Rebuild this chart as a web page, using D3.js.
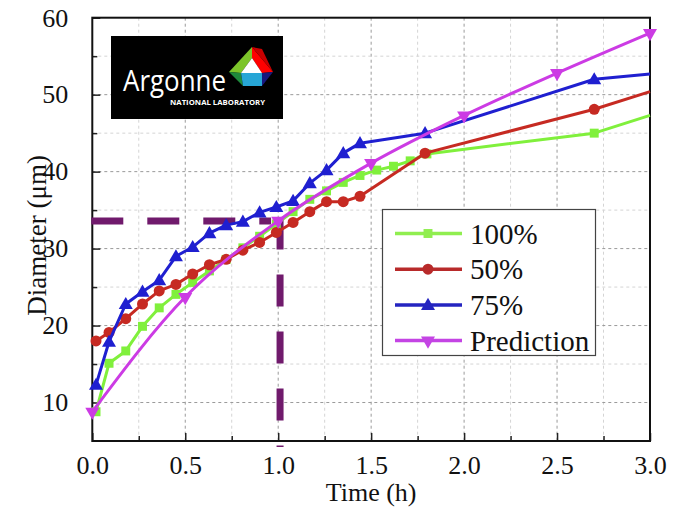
<!DOCTYPE html>
<html><head><meta charset="utf-8">
<script src="https://cdn.jsdelivr.net/npm/d3@7/dist/d3.min.js"></script>
<style>body{margin:0;background:#fff}svg{display:block}.sf{font-family:"Liberation Serif","Times New Roman",Times,serif}</style>
</head><body>
<script>
// ---- data ----
const greenTimes = [0.02,0.09,0.18,0.27,0.36,0.45,0.54,0.63,0.72,0.81,0.90,0.99,1.08,1.17,1.26,1.35,1.44,1.53,1.62,1.71,1.80,2.70,3.0];
const green100 = [8.8,15.1,16.7,19.9,22.3,24.05,25.6,27.1,28.6,30.1,31.6,33.2,34.8,36.4,37.5,38.6,39.5,40.2,40.7,41.4,42.3,45.0,47.3];
const redTimes = [0.02,0.09,0.18,0.27,0.36,0.45,0.54,0.63,0.72,0.81,0.90,0.99,1.08,1.17,1.26,1.35,1.44,1.79,2.70,3.0];
const red50 = [18.0,19.1,20.9,22.8,24.5,25.35,26.7,27.9,28.6,29.8,30.8,32.1,33.4,34.8,36.1,36.1,36.8,42.4,48.1,50.4];
const blueTimes = [0.02,0.09,0.18,0.27,0.36,0.45,0.54,0.63,0.72,0.81,0.90,0.99,1.08,1.17,1.26,1.35,1.44,1.79,2.70,3.0];
const blue75 = [12.3,17.9,22.8,24.4,25.9,29.0,30.2,32.0,33.05,33.5,34.7,35.4,36.2,38.5,40.2,42.4,43.7,45.0,52.0,52.7];
const predTimes = [0.0,0.5,1.0,1.5,2.0,2.5,3.0];
const pred = [8.8,23.7,33.6,41.1,47.3,52.8,58.0];
const xTicks = [0,0.5,1,1.5,2,2.5,3];
const yTicks = [10,20,30,40,50,60];
const guideT = 1.01, guideD = 33.6;
const legendLabels = ["100%","50%","75%","Prediction"];

const W=678,H=507;
const L=92.3,R=650,T=17.7,B=441;
const x=d3.scaleLinear().domain([0,3]).range([L,R]);
const y=d3.scaleLinear().domain([5,60]).range([B,T]);
const svg=d3.select("body").append("svg").attr("width",W).attr("height",H);

// grid
const g=svg.append("g");
d3.range(0.25,3,0.25).forEach(v=>{
  const major=Math.abs(v*2-Math.round(v*2))<1e-6;
  g.append("line").attr("x1",x(v)).attr("x2",x(v)).attr("y1",T).attr("y2",B)
   .attr("stroke",major?"#9a9a9a":"#d4d4d4").attr("stroke-width",1).attr("stroke-dasharray","3,3");
});
d3.range(10,60,5).forEach(v=>{
  const major=v%10===0;
  g.append("line").attr("x1",L).attr("x2",R).attr("y1",y(v)).attr("y2",y(v))
   .attr("stroke",major?"#9a9a9a":"#d4d4d4").attr("stroke-width",1).attr("stroke-dasharray","3,3");
});

// axes with inward ticks
svg.append("g").attr("transform",`translate(0,${B})`)
  .call(d3.axisBottom(x).tickValues(xTicks).tickSize(-8).tickPadding(15).tickFormat(d3.format(".1f")));
svg.append("g").attr("transform",`translate(0,${B})`)
  .call(d3.axisBottom(x).tickValues(d3.range(0.25,3,0.5)).tickSize(-5).tickFormat(""));
svg.append("g").attr("transform",`translate(${L},0)`)
  .call(d3.axisLeft(y).tickValues(yTicks).tickSize(-8).tickPadding(24));
svg.append("g").attr("transform",`translate(${L},0)`)
  .call(d3.axisLeft(y).tickValues(d3.range(15,60,10)).tickSize(-5).tickFormat(""));
svg.selectAll(".domain").remove();
svg.selectAll(".tick line").attr("stroke","#222").attr("stroke-width",1.5);
svg.selectAll("g").attr("font-family",null);
svg.selectAll(".tick text").attr("class","sf").attr("font-size",26).attr("fill","#111");
// frame
svg.append("rect").attr("x",L).attr("y",T).attr("width",R-L).attr("height",B-T)
  .attr("fill","none").attr("stroke","#111").attr("stroke-width",2);

// logo
const lg=svg.append("g");
lg.append("rect").attr("x",111).attr("y",36).attr("width",172).attr("height",83).attr("fill","#000");
lg.append("text").attr("x",123).attr("y",91).attr("fill","#fff").attr("font-family","'Open Sans',Lato,sans-serif")
  .attr("font-size",30).attr("textLength",103).attr("lengthAdjust","spacingAndGlyphs").text("Argonne");
lg.append("text").attr("x",170).attr("y",105).attr("fill","#fff").attr("font-family","'Open Sans',sans-serif")
  .attr("font-weight",700).attr("font-size",6.3).attr("textLength",95).attr("lengthAdjust","spacingAndGlyphs").text("NATIONAL LABORATORY");
const polys=[
 [[[252,47],[273,72],[262,73],[252,58]],"#ff0000"],
 [[[252,47],[262,49],[273,72]],"#c80000"],
 [[[252,47],[252,58],[241,73],[229,72]],"#7cc42a"],
 [[[229,72],[241,73],[243,86]],"#1f8a3c"],
 [[[241,73],[262,73],[262,86],[243,86]],"#27a6d6"],
 [[[262,73],[273,72],[262,86]],"#17187e"],
 [[[252,58],[241,73],[262,73]],"#ffffff"]
];
polys.forEach(([p,c])=>lg.append("path").attr("d","M"+p.map(q=>q.join(",")).join("L")+"Z").attr("fill",c));

// guide lines
const purple="#701a6c";
svg.append("line").attr("x1",x(0)-1).attr("x2",x(guideT)-9).attr("y1",y(guideD)).attr("y2",y(guideD))
  .attr("stroke",purple).attr("stroke-width",7).attr("stroke-dasharray","32,24");
svg.append("line").attr("x1",x(guideT)).attr("x2",x(guideT)).attr("y1",y(guideD)-3.5).attr("y2",B+6)
  .attr("stroke",purple).attr("stroke-width",7).attr("stroke-dasharray","32,25");

// series
const series=[
 {t:greenTimes,v:green100,c:"#80f03c",m:"square",name:legendLabels[0],curve:d3.curveLinear,skipLast:true},
 {t:redTimes,v:red50,c:"#c62a22",m:"circle",name:legendLabels[1],curve:d3.curveLinear,skipLast:true},
 {t:blueTimes,v:blue75,c:"#1f1fd0",m:"triangle",name:legendLabels[2],curve:d3.curveLinear,skipLast:true},
 {t:predTimes,v:pred,c:"#cc3be4",m:"down",name:legendLabels[3],curve:d3.curveMonotoneX,skipLast:false}
];
const sym={square:d3.symbolSquare,circle:d3.symbolCircle,triangle:d3.symbolTriangle,down:d3.symbolTriangle};
const size={square:80,circle:95,triangle:85,down:85};
function marker(sel,s,px,py){
  sel.append("path").attr("d",d3.symbol().type(sym[s.m]).size(size[s.m])())
    .attr("transform",`translate(${px},${py})`+(s.m==="down"?" rotate(180)":"")+(s.m==="triangle"?" translate(0,1)":""))
    .attr("fill",s.c);
}
series.forEach(s=>{
  const pts=s.t.map((t,i)=>[t,s.v[i]]);
  svg.append("path").datum(pts).attr("fill","none").attr("stroke",s.c).attr("stroke-width",3)
    .attr("stroke-linejoin","round")
    .attr("d",d3.line().x(d=>x(d[0])).y(d=>y(d[1])).curve(s.curve));
  pts.forEach((p,i)=>{ if(s.skipLast && i===pts.length-1) return; marker(svg,s,x(p[0]),y(p[1])); });
});

// legend
const lgd=svg.append("g");
lgd.append("rect").attr("x",382.5).attr("y",209.5).attr("width",213).attr("height",146)
  .attr("fill","#fff").attr("stroke","#444").attr("stroke-width",1.2);
const legCols=["#90ee50","#b82a2a","#2424c0","#c444e4"];
series.forEach((s,i)=>{
  const yy=233.5+i*35.7;
  lgd.append("line").attr("x1",395).attr("x2",462).attr("y1",yy).attr("y2",yy).attr("stroke",legCols[i]).attr("stroke-width",3.5);
  marker(lgd,{m:s.m,c:legCols[i]},428,yy);
  lgd.append("text").attr("class","sf").attr("x",470).attr("y",yy+10).attr("font-size",29).attr("fill","#111").text(s.name);
});

// axis titles
svg.append("text").attr("class","sf").attr("x",(L+R)/2).attr("y",501).attr("text-anchor","middle")
  .attr("font-size",26).attr("fill","#111").text("Time (h)");
svg.append("text").attr("class","sf").attr("transform",`translate(46,${(T+B)/2+6}) rotate(-90)`).attr("text-anchor","middle")
  .attr("font-size",27).attr("fill","#111").text("Diameter (μm)");
</script>
</body></html>
